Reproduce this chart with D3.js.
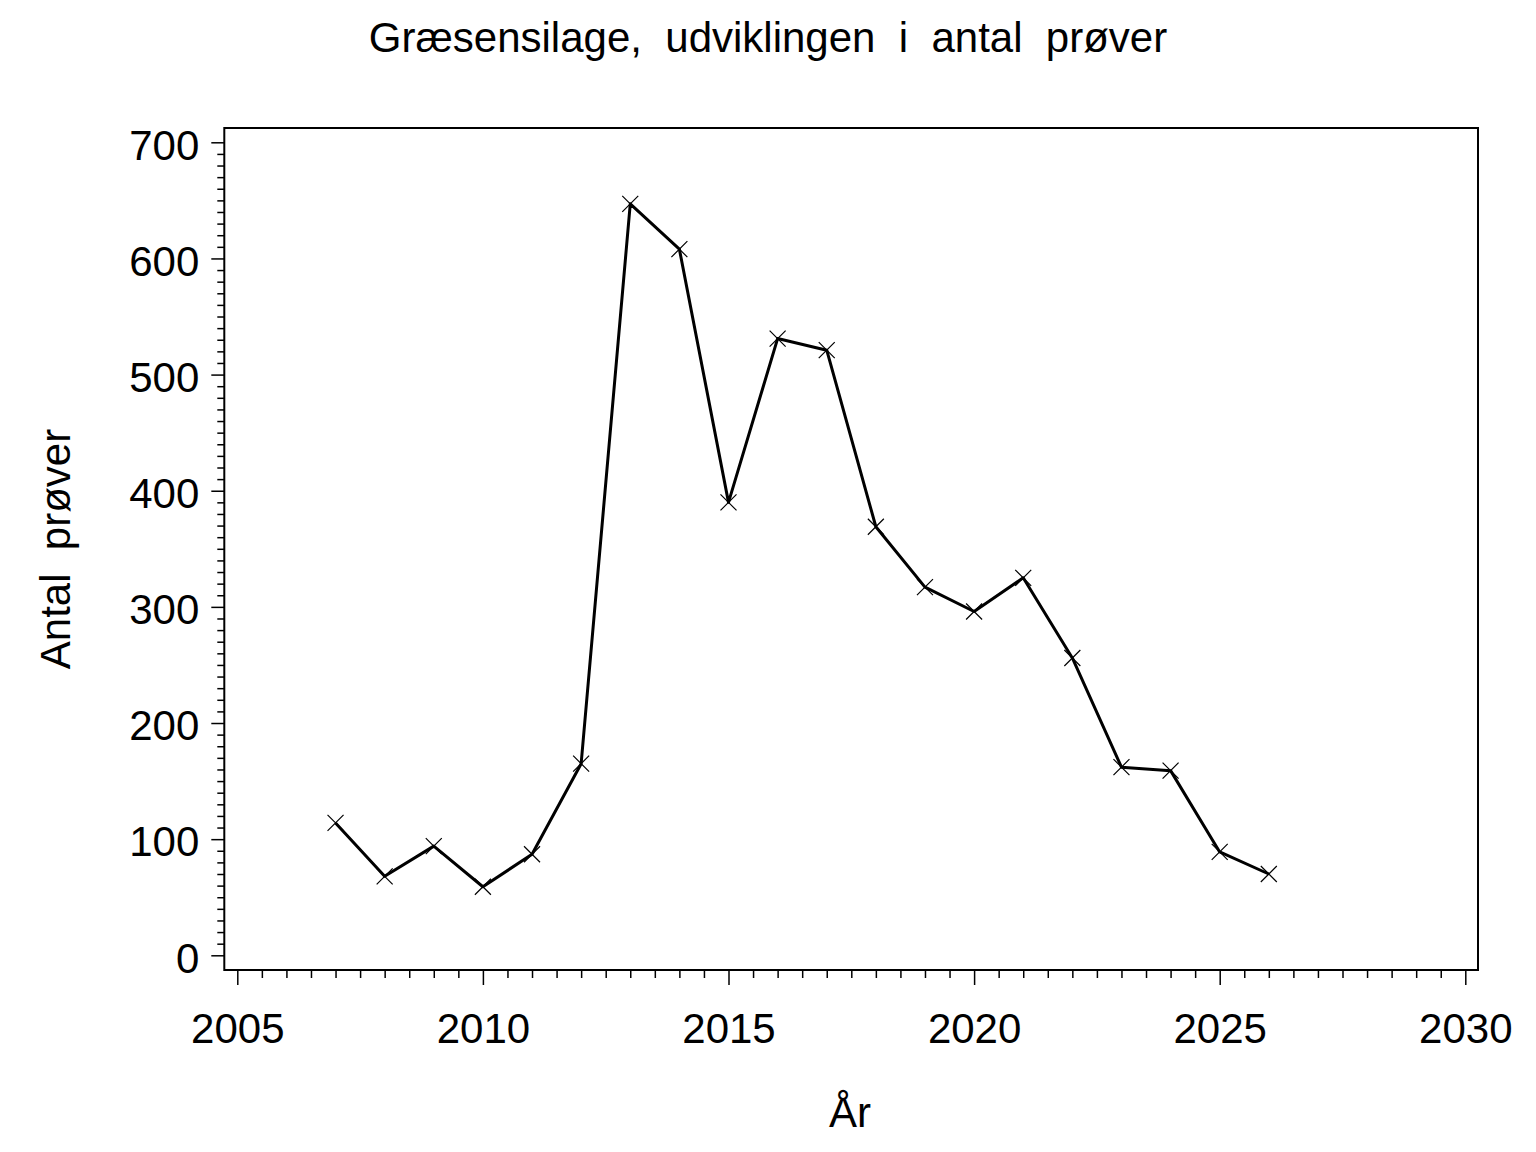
<!DOCTYPE html>
<html>
<head>
<meta charset="utf-8">
<script src="https://cdn.jsdelivr.net/npm/d3@7"></script>
<style>
  html, body { margin: 0; padding: 0; background: #fff; }
  svg { display: block; }
  text { font-family: "Liberation Sans", Arial, sans-serif; fill: #000; }
</style>
</head>
<body>
<script>
const titleText = "Græsensilage,\u00A0\u00A0udviklingen\u00A0\u00A0i\u00A0\u00A0antal\u00A0\u00A0prøver";
const xLabel = "År";
const yLabel = "Antal\u00A0\u00A0prøver";
const years = [2007, 2008, 2009, 2010, 2011, 2012, 2013, 2014, 2015, 2016, 2017, 2018, 2019, 2020, 2021, 2022, 2023, 2024, 2025, 2026];
const counts = [114, 68, 94, 59, 87, 165, 647, 608, 390, 531, 521, 369, 317, 296, 325, 256, 162, 159, 89, 70];
const xTicks = [2005, 2010, 2015, 2020, 2025, 2030];
const yTicks = [0, 100, 200, 300, 400, 500, 600, 700];

const W = 1536, H = 1152;
const frame = { left: 224.3, right: 1478, top: 128, bottom: 970 };

const svg = d3.select("body").append("svg").attr("width", W).attr("height", H);

const x = d3.scaleLinear().domain([2005, 2030]).range([237.3, 1465.3]);
const y = d3.scaleLinear().domain([0, 700]).range([955.3, 142.3]);

// frame
svg.append("rect")
  .attr("x", frame.left).attr("y", frame.top)
  .attr("width", frame.right - frame.left).attr("height", frame.bottom - frame.top)
  .attr("fill", "none").attr("stroke", "#000").attr("stroke-width", 2);

// y minor ticks
const yMinor = d3.range(0, 701, 10).filter(v => v % 100 !== 0);
const gyMinor = svg.append("g").attr("transform", `translate(${frame.left},0)`)
  .call(d3.axisLeft(y).tickValues(yMinor).tickSize(7).tickFormat(""));
gyMinor.select(".domain").remove();
gyMinor.selectAll("line").attr("stroke", "#000").attr("stroke-width", 1.5);

// y major ticks
const gy = svg.append("g").attr("transform", `translate(${frame.left},0)`)
  .call(d3.axisLeft(y).tickValues(yTicks).tickSize(13).tickPadding(12).tickFormat(d3.format("d")));
gy.select(".domain").remove();
gy.selectAll("line").attr("stroke", "#000").attr("stroke-width", 1.5);
gy.selectAll("text").attr("font-size", 42).attr("dy", "0.40em")
  .style("font-family", '"Liberation Sans", Arial, sans-serif').attr("fill", "#000");

// x minor ticks
const xMinor = d3.range(2005, 2030.01, 0.5).filter(v => v % 5 !== 0);
const gxMinor = svg.append("g").attr("transform", `translate(0,${frame.bottom})`)
  .call(d3.axisBottom(x).tickValues(xMinor).tickSize(8).tickFormat(""));
gxMinor.select(".domain").remove();
gxMinor.selectAll("line").attr("stroke", "#000").attr("stroke-width", 1.5);

// x major ticks
const gx = svg.append("g").attr("transform", `translate(0,${frame.bottom})`)
  .call(d3.axisBottom(x).tickValues(xTicks).tickSize(15).tickPadding(28).tickFormat(d3.format("d")));
gx.select(".domain").remove();
gx.selectAll("line").attr("stroke", "#000").attr("stroke-width", 1.5);
gx.selectAll("text").attr("font-size", 42)
  .style("font-family", '"Liberation Sans", Arial, sans-serif').attr("fill", "#000");

// data line
const data = years.map((yr, i) => ({ yr, v: counts[i] }));
svg.append("path")
  .datum(data)
  .attr("fill", "none").attr("stroke", "#000").attr("stroke-width", 3)
  .attr("stroke-linejoin", "round")
  .attr("d", d3.line().x(d => x(d.yr)).y(d => y(d.v)));

// X markers
const m = 8;
const mk = svg.append("g");
data.forEach(d => {
  const cx = x(d.yr), cy = y(d.v);
  mk.append("path")
    .attr("d", `M${cx - m},${cy - m}L${cx + m},${cy + m}M${cx - m},${cy + m}L${cx + m},${cy - m}`)
    .attr("stroke", "#000").attr("stroke-width", 1.2).attr("fill", "none");
});

// title
svg.append("text").attr("x", 768).attr("y", 52).attr("text-anchor", "middle")
  .attr("font-size", 42).text(titleText);

// x label
svg.append("text").attr("x", 850).attr("y", 1127).attr("text-anchor", "middle")
  .attr("font-size", 42).text(xLabel);

// y label
svg.append("text").attr("transform", "translate(70,549) rotate(-90)").attr("text-anchor", "middle")
  .attr("font-size", 42).text(yLabel);
</script>
</body>
</html>
